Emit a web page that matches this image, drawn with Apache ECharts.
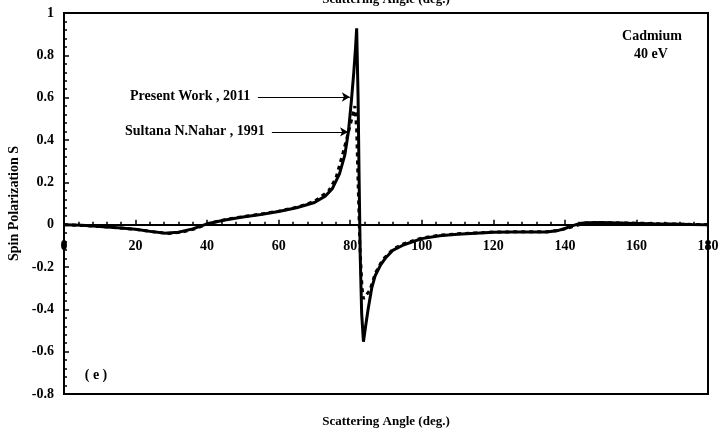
<!DOCTYPE html>
<html>
<head>
<meta charset="utf-8">
<script src="https://cdn.jsdelivr.net/npm/echarts@6/dist/echarts.min.js"></script>
<style>
  html, body { margin: 0; padding: 0; background: #fff; }
  #chart { width: 718px; height: 433px; }
</style>
</head>
<body>
<div id="chart"></div>
<script>
// Spin polarization S of electrons on cadmium at 40 eV vs scattering angle
const presentAngle = [0, 5, 10, 15, 20, 25, 28, 32, 36, 40, 45, 50, 55, 60, 65, 70, 73, 75, 77, 78.5, 79.5, 80.3, 81, 81.5, 81.8,
  82.2, 82.5, 82.8, 83.2, 83.7, 84.3, 85, 86, 87, 88.5, 90, 92, 95, 100, 105, 110, 115, 120, 125, 130, 135, 138, 140, 142, 144,
  146, 150, 155, 160, 165, 170, 175, 180];
const presentS = [0, -0.003, -0.009, -0.015, -0.022, -0.034, -0.040, -0.036, -0.020, 0.004, 0.022, 0.036, 0.048, 0.062, 0.080,
  0.105, 0.135, 0.170, 0.240, 0.330, 0.440, 0.580, 0.720, 0.840, 0.928,
  0.600, 0.200, -0.150, -0.420, -0.553, -0.480, -0.400, -0.300, -0.240, -0.190, -0.155, -0.120, -0.095, -0.066, -0.052, -0.045,
  -0.040, -0.036, -0.035, -0.035, -0.035, -0.028, -0.018, -0.006, 0.005,
  0.009, 0.010, 0.008, 0.006, 0.004, 0.003, 0.001, 0];

const nahar1991Angle = [0, 10, 20, 25, 29, 33, 37, 40, 45, 50, 55, 60, 65, 70, 74, 76, 78, 80, 81.3, 81.8, 82.2, 82.7, 83.3,
  83.7, 85.5, 87, 89, 92, 95, 100, 105, 110, 115, 120, 125, 130, 135, 138, 140, 142, 144, 146, 150, 160, 170, 180];
const nahar1991S = [0, -0.008, -0.022, -0.034, -0.042, -0.035, -0.018, 0.004, 0.024, 0.038, 0.050, 0.064, 0.082, 0.110, 0.160,
  0.220, 0.340, 0.470, 0.560, 0.450, 0.200, -0.100, -0.300, -0.350, -0.310, -0.230, -0.167, -0.115, -0.090, -0.063, -0.050,
  -0.043, -0.039, -0.035, -0.034, -0.034, -0.033, -0.028, -0.020, -0.010, 0.000, 0.008, 0.010, 0.007, 0.003, 0];

const xTicks = [0, 20, 40, 60, 80, 100, 120, 140, 160, 180];
const yTicks = [-0.8, -0.6, -0.4, -0.2, 0, 0.2, 0.4, 0.6, 0.8, 1];

// Annotation arrows: [label, start angle, end angle, S level]
const arrowPresent = ['Present Work , 2011', 54.2, 79.9, 0.603];
const arrowNahar = ['Sultana N.Nahar , 1991', 58.1, 79.4, 0.438];

const serif = "'Liberation Serif', 'Times New Roman', serif";
const zip = (xs, ys) => xs.map((x, i) => [x, ys[i]]);

// Plot box in pixels
const gridBox = { left: 64, top: 13, width: 644, height: 381 };
const yMin = yTicks[0], yMax = yTicks[yTicks.length - 1];
// lift the angle axis from the bottom edge up to S = 0
const zeroLift = -(0 - yMin) / (yMax - yMin) * gridBox.height;

const chart = echarts.init(document.getElementById('chart'), null, { renderer: 'canvas' });

chart.setOption({
  animation: false,
  backgroundColor: '#fff',
  textStyle: { fontFamily: serif },
  grid: Object.assign({
    containLabel: false, outerBoundsMode: 'none',
    show: true, borderColor: '#000', borderWidth: 2, backgroundColor: 'transparent'
  }, gridBox),
  xAxis: [{
    type: 'value', min: xTicks[0], max: xTicks[xTicks.length - 1], interval: 20,
    position: 'bottom', offset: zeroLift,
    axisLine: { onZero: false, lineStyle: { color: '#000', width: 2 } },
    axisTick: { inside: true, length: 5, lineStyle: { color: '#000', width: 1.5 } },
    minorTick: { show: true, splitNumber: 5, length: 3, lineStyle: { color: '#000', width: 1.5 } },
    splitLine: { show: false },
    axisLabel: { color: '#000', fontWeight: 'bold', fontSize: 14, fontFamily: serif, margin: 15 },
    name: 'Scattering Angle (deg.)', nameLocation: 'middle', nameGap: 190,
    nameTextStyle: { color: '#000', fontWeight: 'bold', fontSize: 13, fontFamily: serif }
  }, {
    type: 'value', min: xTicks[0], max: xTicks[xTicks.length - 1], interval: 20,
    position: 'top',
    axisLine: { show: false }, axisTick: { show: false }, axisLabel: { show: false }, splitLine: { show: false },
    name: 'Scattering Angle (deg.)', nameLocation: 'middle', nameGap: 7,
    nameTextStyle: { color: '#000', fontWeight: 'bold', fontSize: 13, fontFamily: serif }
  }],
  yAxis: {
    type: 'value', min: yMin, max: yMax, interval: 0.2,
    axisLine: { show: true, onZero: false, lineStyle: { color: '#000', width: 2 } },
    axisTick: { inside: true, length: 5, lineStyle: { color: '#000', width: 1.5 } },
    minorTick: { show: true, splitNumber: 5, length: 3, lineStyle: { color: '#000', width: 1.5 } },
    splitLine: { show: false },
    axisLabel: {
      color: '#000', fontWeight: 'bold', fontSize: 14, fontFamily: serif, margin: 10,
      formatter: v => String(Math.round(v * 10) / 10)
    },
    name: 'Spin Polarization S', nameLocation: 'middle', nameGap: 41, nameRotate: 90,
    nameTextStyle: { color: '#000', fontWeight: 'bold', fontSize: 14, fontFamily: serif }
  },
  series: [{
    name: 'Present Work , 2011', type: 'line', xAxisIndex: 0,
    data: zip(presentAngle, presentS), showSymbol: false, smooth: false,
    lineStyle: { color: '#000', width: 3 }, z: 3,
    markLine: {
      silent: true, symbol: ['none', 'arrow'], symbolSize: [7, 8],
      lineStyle: { color: '#000', width: 1, type: 'solid' },
      label: { show: false },
      data: [[{ coord: [arrowPresent[1], arrowPresent[3]] }, { coord: [arrowPresent[2], arrowPresent[3]] }],
             [{ coord: [arrowNahar[1], arrowNahar[3]] }, { coord: [arrowNahar[2], arrowNahar[3]] }]]
    }
  }, {
    name: 'Sultana N.Nahar , 1991', type: 'line', xAxisIndex: 0,
    data: zip(nahar1991Angle, nahar1991S), showSymbol: false, smooth: false,
    lineStyle: { color: '#000', width: 3, type: [4, 4] }, z: 2
  }],
  graphic: [
    { type: 'text', left: 252 - 122, top: 89,
      style: { text: arrowPresent[0], fill: '#000', font: 'bold 14px ' + serif } },
    { type: 'text', left: 125, top: 124,
      style: { text: arrowNahar[0], fill: '#000', font: 'bold 14px ' + serif } },
    { type: 'text', x: 652, y: 36,
      style: { text: 'Cadmium', fill: '#000', font: 'bold 14px ' + serif, align: 'center', verticalAlign: 'middle' } },
    { type: 'text', x: 651, y: 54,
      style: { text: '40 eV', fill: '#000', font: 'bold 14px ' + serif, align: 'center', verticalAlign: 'middle' } },
    { type: 'text', x: 96, y: 375,
      style: { text: '( e )', fill: '#000', font: 'bold 14px ' + serif, align: 'center', verticalAlign: 'middle' } }
  ]
});
</script>
</body>
</html>
